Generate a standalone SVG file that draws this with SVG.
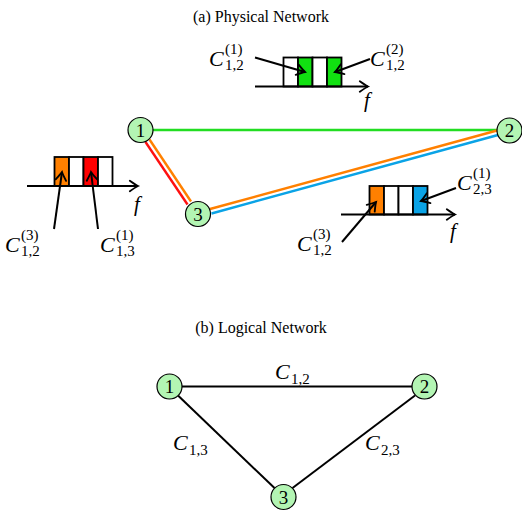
<svg xmlns="http://www.w3.org/2000/svg" width="522" height="516" viewBox="0 0 522 516" font-family="'Liberation Serif', 'DejaVu Serif', serif">
<defs>
<marker id="arr" markerUnits="userSpaceOnUse" markerWidth="14" markerHeight="14" viewBox="-8 -6 10 12" refX="0" refY="0" orient="auto">
<path d="M -7 -4.5 Q -2 -1 0 0 Q -2 1 -7 4.5" fill="none" stroke="#000" stroke-width="1.6" stroke-linecap="round"/>
</marker>
</defs>
<style>
text{font-family:'Liberation Serif','DejaVu Serif',serif;fill:#000}
.title{font-size:16px}
.c{font-size:22px;font-style:italic}
.s{font-size:15px}
.f{font-size:21px;font-style:italic}
.nd{fill:#b3f5b3;stroke:#000;stroke-width:1.2}
.nl{font-size:19px;text-anchor:middle}
.ln{fill:none;stroke:#000;stroke-width:2}
.ar{fill:none;stroke:#000;stroke-width:2;marker-end:url(#arr)}
.slot{stroke:#000;stroke-width:1.8}
</style>
<rect width="522" height="516" fill="#fff"/>
<text class="title" x="261" y="22" text-anchor="middle">(a) Physical Network</text>
<text class="title" x="261" y="333" text-anchor="middle">(b) Logical Network</text>

<g id="connectors">
<line x1="153" y1="130" x2="497" y2="130" stroke="#22dd22" stroke-width="2.4"/>
<line x1="145.5" y1="142" x2="187.5" y2="204.5" stroke="#ff1010" stroke-width="2.4"/>
<line x1="149.5" y1="139.5" x2="191" y2="201.5" stroke="#ff8000" stroke-width="2.4"/>
<line x1="210" y1="209" x2="497" y2="130.5" stroke="#ff8000" stroke-width="2.4"/>
<line x1="211.5" y1="213.5" x2="498" y2="135" stroke="#0aa3e6" stroke-width="2.4"/>
<line class="ln" x1="182" y1="386.5" x2="412" y2="386.5"/>
<line class="ln" x1="178" y1="395.5" x2="274.5" y2="488"/>
<line class="ln" x1="415" y1="395.5" x2="292.5" y2="488"/>
</g>

<g id="node-p1"><circle class="nd" cx="140.5" cy="130" r="12.5"/><text class="nl" x="140.5" y="136.5">1</text></g>
<g id="node-p2"><circle class="nd" cx="509.5" cy="130.5" r="12.5"/><text class="nl" x="509.5" y="137">2</text></g>
<g id="node-p3"><circle class="nd" cx="198" cy="214" r="12.5"/><text class="nl" x="198" y="220.5">3</text></g>

<g id="node-l1"><circle class="nd" cx="169.5" cy="386.5" r="12.5"/><text class="nl" x="169.5" y="393">1</text></g>
<g id="node-l2"><circle class="nd" cx="424.5" cy="386.5" r="12.5"/><text class="nl" x="424.5" y="393">2</text></g>
<g id="node-l3"><circle class="nd" cx="283.5" cy="497" r="12.5"/><text class="nl" x="283.5" y="503.5">3</text></g>

<g id="spectrum-top">
<rect class="slot" x="283.5" y="57.5" width="14.5" height="29" fill="#fff"/>
<rect class="slot" x="298" y="57.5" width="14.5" height="29" fill="#11e011"/>
<rect class="slot" x="312.5" y="57.5" width="14.5" height="29" fill="#fff"/>
<rect class="slot" x="327" y="57.5" width="14.5" height="29" fill="#11e011"/>
<line class="ar" x1="255" y1="86.5" x2="368" y2="86.5"/>
<text class="f" x="364" y="107">f</text>
<line class="ar" x1="255" y1="57.5" x2="305" y2="72"/>
<line class="ar" x1="370" y1="59" x2="335" y2="72"/>
<text class="c" x="209" y="66">C</text><text class="s" x="225" y="54">(1)</text><text class="s" x="225" y="70">1,2</text>
<text class="c" x="370" y="66">C</text><text class="s" x="386" y="54">(2)</text><text class="s" x="386" y="70">1,2</text>
</g>

<g id="spectrum-left">
<rect class="slot" x="54.5" y="157" width="14.5" height="29" fill="#ff8000"/>
<rect class="slot" x="69" y="157" width="14.5" height="29" fill="#fff"/>
<rect class="slot" x="83.5" y="157" width="14.5" height="29" fill="#ff0000"/>
<rect class="slot" x="98" y="157" width="14.5" height="29" fill="#fff"/>
<line class="ar" x1="27" y1="186" x2="138" y2="186"/>
<text class="f" x="134" y="211">f</text>
<line class="ar" x1="54" y1="229" x2="62" y2="172"/>
<line class="ar" x1="98" y1="229" x2="91" y2="172"/>
<text class="c" x="5" y="252">C</text><text class="s" x="21" y="240">(3)</text><text class="s" x="21" y="256">1,2</text>
<text class="c" x="100" y="252">C</text><text class="s" x="116" y="240">(1)</text><text class="s" x="116" y="256">1,3</text>
</g>

<g id="spectrum-right">
<rect class="slot" x="369.5" y="186" width="14.5" height="28.5" fill="#ff8000"/>
<rect class="slot" x="384" y="186" width="14.5" height="28.5" fill="#fff"/>
<rect class="slot" x="398.5" y="186" width="14.5" height="28.5" fill="#fff"/>
<rect class="slot" x="413" y="186" width="14.5" height="28.5" fill="#0aa3e6"/>
<line class="ar" x1="341" y1="214.5" x2="455" y2="214.5"/>
<text class="f" x="450" y="238">f</text>
<line class="ar" x1="342" y1="242" x2="376" y2="202"/>
<line class="ar" x1="456" y1="188" x2="421" y2="201"/>
<text class="c" x="457" y="190">C</text><text class="s" x="473" y="178">(1)</text><text class="s" x="473" y="194">2,3</text>
<text class="c" x="297" y="251">C</text><text class="s" x="313" y="239">(3)</text><text class="s" x="313" y="255">1,2</text>
</g>

<g id="logical-labels">
<text class="c" x="275" y="379">C</text><text class="s" x="291" y="384">1,2</text>
<text class="c" x="173" y="450">C</text><text class="s" x="189" y="455">1,3</text>
<text class="c" x="365" y="450">C</text><text class="s" x="381" y="455">2,3</text>
</g>
</svg>
